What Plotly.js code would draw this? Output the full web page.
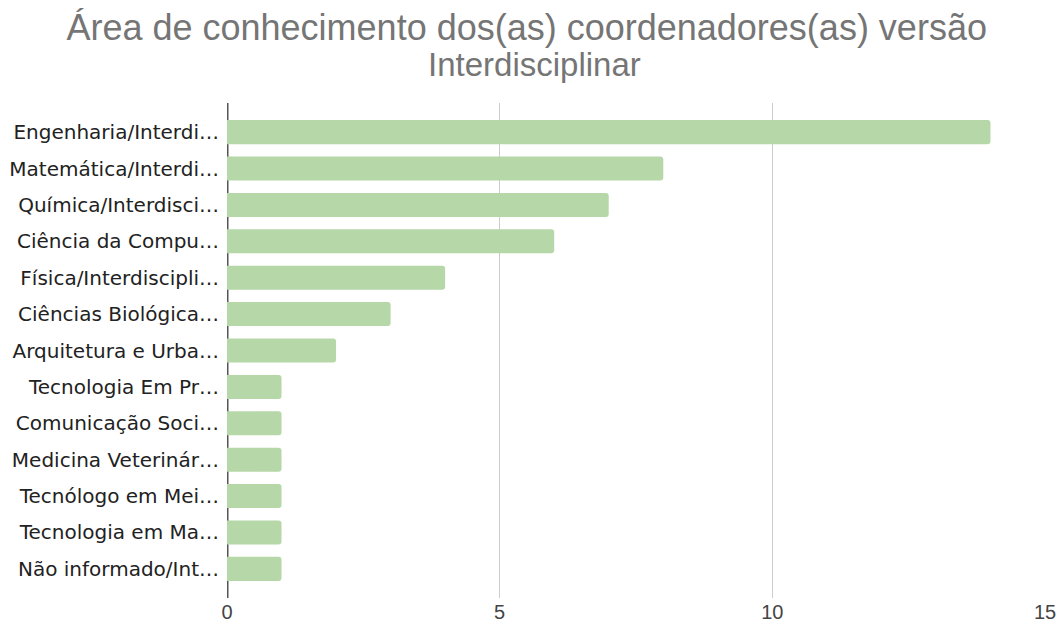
<!DOCTYPE html>
<html><head><meta charset="utf-8">
<script src="https://cdn.plot.ly/plotly-3.0.1.min.js"></script>
<style>body{margin:0;background:#fff}#c{width:1064px;height:626px}</style>
</head><body><div id="c"></div>
<script>
const categories = ["Engenharia/Interdi…","Matemática/Interdi…","Química/Interdisci…","Ciência da Compu…","Física/Interdiscipli…","Ciências Biológica…","Arquitetura e Urba…","Tecnologia Em Pr…","Comunicação Soci…","Medicina Veterinár…","Tecnólogo em Mei…","Tecnologia em Ma…","Não informado/Int…"];
const values = [14,8,7,6,4,3,2,1,1,1,1,1,1];
const xTicks = [0,5,10,15];
const titleLine1 = 'Área de conhecimento dos(as) coordenadores(as) versão';
const titleLine2 = 'Interdisciplinar';

const FONT = 'Liberation Sans, Arial, sans-serif';
const trace = {type:'bar', orientation:'h', y:categories, x:values,
  marker:{color:'#b6d7a8', cornerradius:3}, hoverinfo:'x+y'};
const layout = {
  width:1064, height:626,
  margin:{l:227, r:19, t:103, b:28},
  paper_bgcolor:'#fff', plot_bgcolor:'#fff',
  bargap:0.34,
  title:{text:titleLine1,
    font:{family:FONT, size:36, color:'#757575'},
    x:0.495, xanchor:'center', y:1-27/626, yanchor:'middle', yref:'container'},
  annotations:[{text:titleLine2, xref:'paper', yref:'paper', x:(534-227)/818, y:(598-65)/495,
    xanchor:'center', yanchor:'middle', showarrow:false,
    font:{family:FONT, size:33, color:'#757575'}}],
  xaxis:{range:[0,15], tickvals:xTicks, ticktext:xTicks.map(String), showgrid:true, gridcolor:'#cccccc', gridwidth:1,
    zeroline:false, showline:false, ticks:'', tickfont:{family:FONT, size:20, color:'#444'}},
  yaxis:{type:'category', range:[12.8,-0.8], showgrid:false, zeroline:false, showline:false, ticks:'',
    ticklabelstandoff:7,
    tickfont:{family:'DejaVu Sans, sans-serif', size:20, color:'#222'}},
  shapes:[{type:'line', layer:'below', xref:'x', yref:'paper', x0:0, x1:0, y0:0, y1:1,
    line:{color:'#555', width:3}}],
  showlegend:false
};
Plotly.newPlot('c',[trace],layout,{displayModeBar:false});
</script></body></html>
